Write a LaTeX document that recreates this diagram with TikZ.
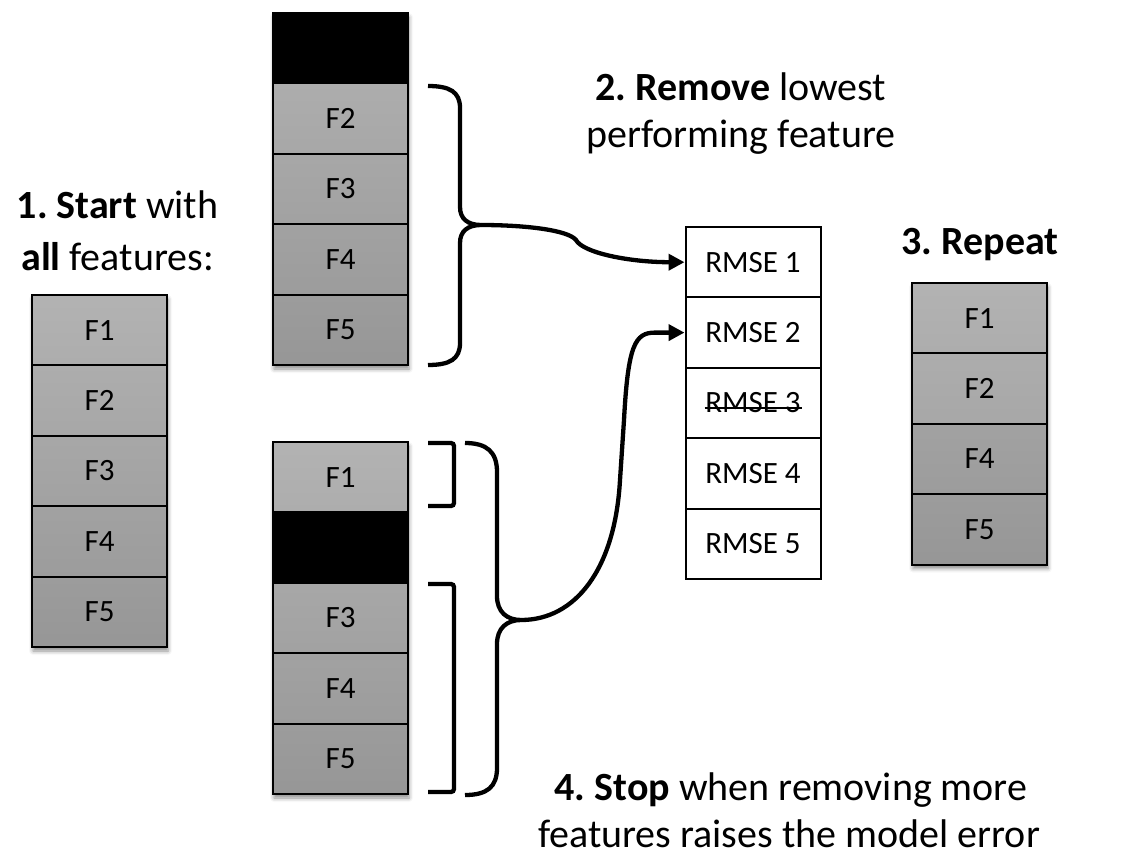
\documentclass[tikz,border=0pt]{standalone}
\usepackage{fontspec}
\setmainfont{Carlito}
\frenchspacing
\usetikzlibrary{arrows.meta,shadows.blur}
\definecolor{g0}{gray}{0.70}
\definecolor{g1}{gray}{0.678}
\definecolor{g2}{gray}{0.656}
\definecolor{g3}{gray}{0.634}
\definecolor{g4}{gray}{0.612}
\definecolor{g5}{gray}{0.59}
\begin{document}
\begin{tikzpicture}[x=1pt,y=-1pt,
  cell/.style={draw=black, line width=2pt, minimum width=135pt, minimum height=70.4pt,
    inner sep=0pt, font=\fontsize{31}{37}\selectfont},
  row0/.style={cell, top color=g0, bottom color=g1},
  row1/.style={cell, top color=g1, bottom color=g2},
  row2/.style={cell, top color=g2, bottom color=g3},
  row3/.style={cell, top color=g3, bottom color=g4},
  row4/.style={cell, top color=g4, bottom color=g5},
  gone/.style={cell, fill=black},
  rmse/.style={cell, fill=white},
  stackshadow/.style={blur shadow={shadow xshift=1pt, shadow yshift=-4pt, shadow blur radius=4pt, shadow opacity=45}},
  bigtext/.style={anchor=base, inner sep=0pt, font=\fontsize{40}{48}\selectfont},
  bracepath/.style={line width=4.3pt, black},
  conn/.style={line width=4.3pt, black, -{Triangle[length=16pt,width=16pt]}}
]
\useasboundingbox (0,0) rectangle (1127,859);

% shadows
\path[stackshadow] (32,295) rectangle (167,647);
\path[stackshadow] (273,13) rectangle (408,365);
\path[stackshadow] (273,442) rectangle (408,794);
\path[stackshadow] (912,283) rectangle (1047,564.6);

% left stack
\node[row0] (L1) at (99.5,330.2) {F1};
\node[row1] (L2) at (99.5,400.6) {F2};
\node[row2] (L3) at (99.5,471.0) {F3};
\node[row3] (L4) at (99.5,541.4) {F4};
\node[row4] (L5) at (99.5,611.8) {F5};

% top middle stack
\node[gone] (T0) at (340.5,48.2) {};
\node[row1] (T2) at (340.5,118.6) {F2};
\node[row2] (T3) at (340.5,189.0) {F3};
\node[row3] (T4) at (340.5,259.4) {F4};
\node[row4] (T5) at (340.5,329.8) {F5};

% bottom middle stack
\node[row0] (B1) at (340.5,477.2) {F1};
\node[gone] (B0) at (340.5,547.6) {};
\node[row2] (B3) at (340.5,618.0) {F3};
\node[row3] (B4) at (340.5,688.4) {F4};
\node[row4] (B5) at (340.5,758.8) {F5};

% RMSE column
\node[rmse] (R1) at (753,262.2) {RMSE 1};
\node[rmse] (R2) at (753,332.6) {RMSE 2};
\node[rmse] (R3) at (753,403.0) {RMSE 3};
\node[rmse] (R4) at (753,473.4) {RMSE 4};
\node[rmse] (R5) at (753,543.8) {RMSE 5};
\draw[line width=1.6pt] ([xshift=-48.5pt,yshift=-5pt]R3.center) -- ([xshift=48.5pt,yshift=-5pt]R3.center);

% right stack
\node[row0] (P1) at (979.5,318.2) {F1};
\node[row1] (P2) at (979.5,388.6) {F2};
\node[row3] (P4) at (979.5,459.0) {F4};
\node[row4] (P5) at (979.5,529.4) {F5};

% texts
\node[bigtext] (s1a) at (117.5,218) {\textbf{1. Start} with};
\node[bigtext] (s1b) at (117.5,270) {\textbf{all} features:};
\node[bigtext] (s2a) at (741,100) {\textbf{2. Remove} lowest};
\node[bigtext] (s2b) at (741,147) {performing feature};
\node[bigtext] (s3) at (980,254) {\textbf{3. Repeat}};
\node[bigtext] (s4a) at (791,800) {\textbf{4. Stop} when removing more};
\node[bigtext] (s4b) at (789,847) {features raises the model error};

% top brace
\coordinate (tb) at (481,225);
\draw[bracepath] (428,86) .. controls (450,86) and (460,92) .. (460,108) -- (460,207)
  .. controls (460,219) and (468,225) .. (tb)
  .. controls (468,225) and (460,231) .. (460,243) -- (460,343)
  .. controls (460,359) and (450,365) .. (428,365);

% bottom brackets
\draw[bracepath, rounded corners=3pt] (428,443) -- (454,443) -- (454,506) -- (428,506);
\draw[bracepath, rounded corners=3pt] (428,584) -- (454,584) -- (454,792) -- (428,792);

% bottom big brace
\coordinate (bb) at (521,620);
\draw[bracepath] (465,443) .. controls (487,443) and (497,452) .. (497,472) -- (497,596)
  .. controls (497,612) and (507,620) .. (bb)
  .. controls (507,620) and (497,628) .. (497,644) -- (497,768)
  .. controls (497,787) and (487,795) .. (465,795);

% connectors
\draw[conn] (tb) .. controls (525,225) and (568,230) .. (576,240)
  .. controls (583,253) and (630,262.2) .. (R1.west);
\draw[conn] (bb) .. controls (575,620) and (615,570) .. (620,480) -- (624,420)
  .. controls (628,345) and (635,332.6) .. (655,332.6) -- (R2.west);
\end{tikzpicture}
\end{document}
